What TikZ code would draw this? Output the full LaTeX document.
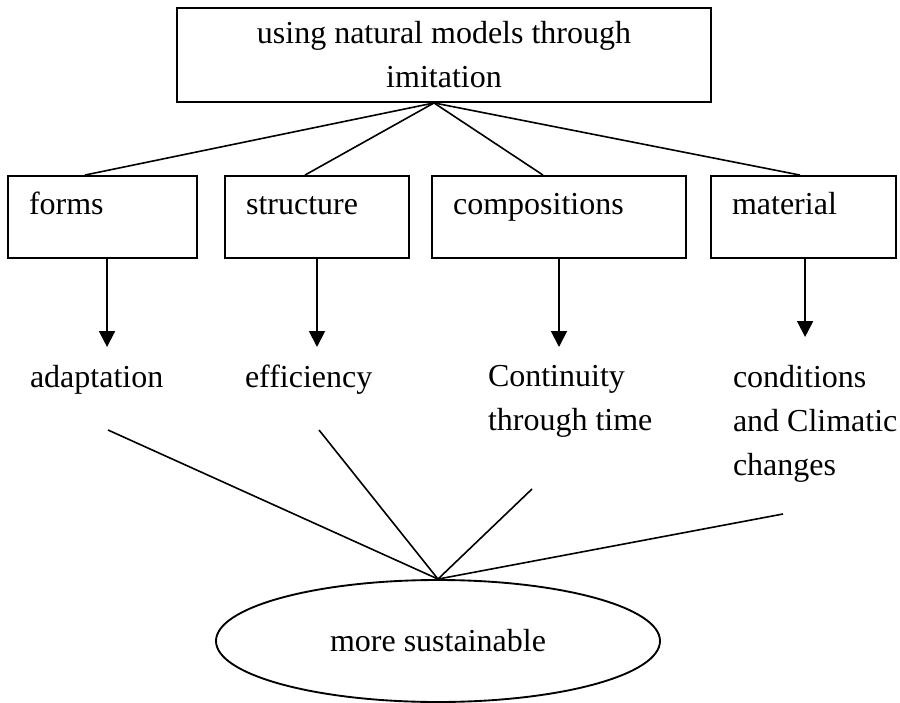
\documentclass[tikz,border=0pt]{standalone}
\usepackage{fontspec}
\setmainfont{Liberation Serif}
\usetikzlibrary{shapes.geometric, arrows.meta, positioning}

\begin{document}
\begin{tikzpicture}[
  x=0.375pt, y=-0.375pt,
  font=\fontsize{12}{16.5}\selectfont,
  topbox/.style={rectangle, draw, line width=0.7pt, align=center,
                 minimum width=200.25pt, minimum height=35.25pt},
  catbox/.style={rectangle, draw, line width=0.7pt, align=left,
                 inner xsep=7.9pt, inner ysep=0pt,
                 text height=14.25pt, text depth=16.5pt, text width=#1},
  effect/.style={anchor=north west, align=left, inner sep=0pt,
                 outer xsep=0pt, outer ysep=6.75pt},
  goal/.style={ellipse, draw, line width=0.7pt,
               minimum width=166.5pt, minimum height=45.75pt},
  arrow/.style={-{Triangle[width=6pt, length=6pt]}, line width=0.7pt},
  link/.style={line width=0.6pt}
]
  \useasboundingbox (0,0) rectangle (900,703);

  \node[topbox] (top) at (444,55) {
    using natural models through\\
    imitation
  };
  \node[catbox=55.1pt] (form) at (102.5,217) {forms};
  \node[catbox=53.2pt] (struc) at (317,217) {structure};
  \node[catbox=79.45pt] (comp) at (559,217) {compositions};
  \node[catbox=53.6pt] (mat) at (803.5,217) {material};

  \node[effect] (adapt) at (30,347) {adaptation};
  \node[effect] (eff) at (245,347) {efficiency};
  \node[effect] (cont) at (488,347) {Continuity\\through time};
  \node[effect] (cond) at (733,347) {conditions\\and Climatic\\changes};

  \node[goal] (sust) at (438,641) {more sustainable};

  \coordinate (fan) at ([xshift=-3.75pt]top.south);
  \coordinate (adapt-end) at (108,430);
  \coordinate (eff-end) at (319,430);
  \coordinate (cont-end) at (532,489);
  \coordinate (cond-end) at (783,514);

  \draw[link] (fan) -- ([xshift=-6.6pt]form.north);
  \draw[link] (fan) -- ([xshift=-4.5pt]struc.north);
  \draw[link] (fan) -- ([xshift=-6pt]comp.north);
  \draw[link] (fan) -- ([xshift=-1.3pt]mat.north);

  \draw[arrow] ([xshift=1.7pt]form.south) -- ([xshift=1.7pt]form.south |- adapt.north);
  \draw[arrow] (struc.south) -- (struc.south |- eff.north);
  \draw[arrow] (comp.south) -- (comp.south |- cont.north);
  \draw[arrow, shorten >=3.75pt] ([xshift=0.6pt]mat.south) -- ([xshift=0.6pt]mat.south |- cond.north);

  \draw[link] (adapt-end) -- (sust.north);
  \draw[link] (eff-end) -- (sust.north);
  \draw[link] (cont-end) -- (sust.north);
  \draw[link] (cond-end) -- (sust.north);
\end{tikzpicture}
\end{document}
